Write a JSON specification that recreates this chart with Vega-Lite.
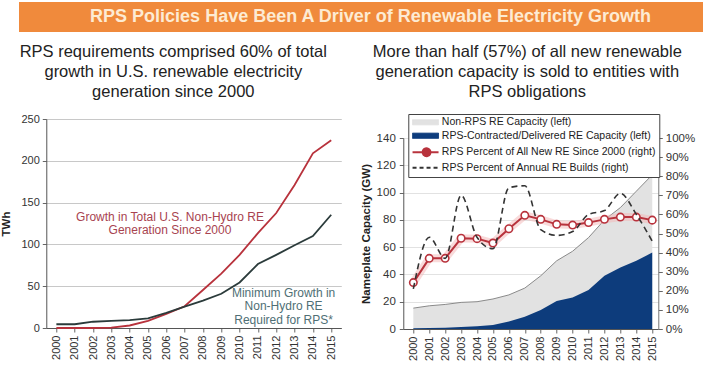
{
  "$schema": "https://vega.github.io/schema/vega-lite/v6.json",
  "background": "white",
  "padding": {"left": 0, "right": 0, "top": 2, "bottom": 0},
  "config": {
    "font": "Liberation Sans",
    "view": {"stroke": null},
    "axis": {"labelFont": "Liberation Sans", "titleFont": "Liberation Sans", "labelColor": "#333333", "titleColor": "#222222", "domainColor": "#666666", "tickColor": "#666666", "labelFontSize": 11, "tickSize": 4}
  },
  "datasets": {
    "gen": [
      {"year": 2000, "series": "total", "twh": 0},
      {"year": 2001, "series": "total", "twh": 0},
      {"year": 2002, "series": "total", "twh": 0},
      {"year": 2003, "series": "total", "twh": 0.5},
      {"year": 2004, "series": "total", "twh": 3},
      {"year": 2005, "series": "total", "twh": 8.5},
      {"year": 2006, "series": "total", "twh": 17},
      {"year": 2007, "series": "total", "twh": 26},
      {"year": 2008, "series": "total", "twh": 45.5},
      {"year": 2009, "series": "total", "twh": 65},
      {"year": 2010, "series": "total", "twh": 87.5},
      {"year": 2011, "series": "total", "twh": 113.5},
      {"year": 2012, "series": "total", "twh": 137.5},
      {"year": 2013, "series": "total", "twh": 171},
      {"year": 2014, "series": "total", "twh": 209},
      {"year": 2015, "series": "total", "twh": 224.5},
      {"year": 2000, "series": "min", "twh": 4.5},
      {"year": 2001, "series": "min", "twh": 4.5},
      {"year": 2002, "series": "min", "twh": 7.5},
      {"year": 2003, "series": "min", "twh": 8.5},
      {"year": 2004, "series": "min", "twh": 9.5},
      {"year": 2005, "series": "min", "twh": 11.5},
      {"year": 2006, "series": "min", "twh": 18},
      {"year": 2007, "series": "min", "twh": 25.5},
      {"year": 2008, "series": "min", "twh": 32.7},
      {"year": 2009, "series": "min", "twh": 41},
      {"year": 2010, "series": "min", "twh": 54.5},
      {"year": 2011, "series": "min", "twh": 76.5},
      {"year": 2012, "series": "min", "twh": 87.5},
      {"year": 2013, "series": "min", "twh": 99},
      {"year": 2014, "series": "min", "twh": 110},
      {"year": 2015, "series": "min", "twh": 135.5}
    ],
    "notes": [
      {"series": "total", "year": 2006.2, "twh": 132.8, "text": "Growth in Total U.S. Non-Hydro RE\nGeneration Since 2000"},
      {"series": "min", "year": 2012.4, "twh": 41.9, "text": "Minimum Growth in\nNon-Hydro RE\nRequired for RPS*"}
    ],
    "cap": [
      {"year": 2000, "total": 15.3, "rps": 0.5, "allpct": 0.243, "annual": 0.21},
      {"year": 2001, "total": 17, "rps": 0.8, "allpct": 0.37, "annual": 0.48},
      {"year": 2002, "total": 18, "rps": 1, "allpct": 0.37, "annual": 0.37},
      {"year": 2003, "total": 19.5, "rps": 1.5, "allpct": 0.475, "annual": 0.70},
      {"year": 2004, "total": 20, "rps": 2, "allpct": 0.473, "annual": 0.48},
      {"year": 2005, "total": 22, "rps": 3, "allpct": 0.45, "annual": 0.42},
      {"year": 2006, "total": 25, "rps": 5.5, "allpct": 0.525, "annual": 0.74},
      {"year": 2007, "total": 30, "rps": 9, "allpct": 0.595, "annual": 0.75},
      {"year": 2008, "total": 39, "rps": 14, "allpct": 0.574, "annual": 0.52},
      {"year": 2009, "total": 50, "rps": 20.5, "allpct": 0.548, "annual": 0.49},
      {"year": 2010, "total": 57, "rps": 23, "allpct": 0.544, "annual": 0.51},
      {"year": 2011, "total": 67, "rps": 28.5, "allpct": 0.557, "annual": 0.60},
      {"year": 2012, "total": 80, "rps": 39, "allpct": 0.574, "annual": 0.62},
      {"year": 2013, "total": 89, "rps": 45, "allpct": 0.586, "annual": 0.71},
      {"year": 2014, "total": 101, "rps": 50, "allpct": 0.586, "annual": 0.60},
      {"year": 2015, "total": 113, "rps": 56, "allpct": 0.57, "annual": 0.46}
    ]
  },
  "center": true,
  "spacing": 9,
  "vconcat": [
    {
      "width": 703,
      "height": 30,
      "view": {"fill": "#f08a3c", "stroke": null},
      "data": {"values": [{"t": "RPS Policies Have Been A Driver of Renewable Electricity Growth"}]},
      "mark": {"type": "text", "font": "Liberation Sans", "fontWeight": "bold", "fontSize": 18, "color": "#fdebd3"},
      "encoding": {"text": {"field": "t"}}
    },
    {
      "spacing": 18,
      "resolve": {"scale": {"color": "independent"}, "legend": {"color": "independent"}},
      "hconcat": [
        {
          "spacing": 12,
          "vconcat": [
            {
              "width": 254,
              "height": 22,
              "data": {"values": [{"t": "RPS requirements comprised 60% of total\ngrowth in U.S. renewable electricity\ngeneration since 2000"}]},
              "mark": {"type": "text", "font": "Liberation Sans", "fontSize": 16.5, "lineHeight": 20, "lineBreak": "\n", "color": "#222222", "baseline": "middle"},
              "encoding": {"text": {"field": "t"}}
            },
            {
              "width": 295,
              "height": 209,
              "layer": [
                {
                  "data": {"name": "gen"},
                  "mark": {"type": "line", "strokeWidth": 1.8},
                  "encoding": {
                    "x": {"field": "year", "type": "quantitative", "scale": {"domain": [1999.45, 2015.55], "nice": false, "zero": false}, "axis": {"tickCount": 16, "format": "d", "labelAngle": -90, "labelOverlap": false, "labelSeparation": 0, "title": null, "grid": false, "labelPadding": 3, "domainColor": "#555555"}},
                    "y": {"field": "twh", "type": "quantitative", "scale": {"domain": [0, 250], "nice": false}, "axis": {"tickCount": 5, "labelOverlap": false, "title": "TWh", "titleFontWeight": "bold", "titleFontSize": 11.5, "titlePadding": 9, "grid": true, "gridColor": "#c8c8c8", "labelPadding": 3, "domainColor": "#555555"}},
                    "color": {"field": "series", "type": "nominal", "scale": {"domain": ["total", "min"], "range": ["#b8323c", "#2b3b3b"]}, "legend": null}
                  }
                },
                {
                  "data": {"name": "notes"},
                  "transform": [{"filter": "datum.series === 'total'"}],
                  "mark": {"type": "text", "fontSize": 12, "lineBreak": "\n", "lineHeight": 13.5, "color": "#a8434f"},
                  "encoding": {"x": {"field": "year", "type": "quantitative"}, "y": {"field": "twh", "type": "quantitative"}, "text": {"field": "text"}}
                },
                {
                  "data": {"name": "notes"},
                  "transform": [{"filter": "datum.series === 'min'"}],
                  "mark": {"type": "text", "fontSize": 12, "lineBreak": "\n", "lineHeight": 13.5, "color": "#4f6f75"},
                  "encoding": {"x": {"field": "year", "type": "quantitative"}, "y": {"field": "twh", "type": "quantitative"}, "text": {"field": "text"}}
                }
              ]
            }
          ]
        },
        {
          "spacing": 12,
          "resolve": {"scale": {"color": "independent"}, "legend": {"color": "independent"}},
          "vconcat": [
            {
              "width": 248,
              "height": 22,
              "data": {"values": [{"t": "More than half (57%) of all new renewable\ngeneration capacity is sold to entities with\nRPS obligations"}]},
              "mark": {"type": "text", "font": "Liberation Sans", "fontSize": 16.5, "lineHeight": 20, "lineBreak": "\n", "color": "#222222", "baseline": "middle"},
              "encoding": {"text": {"field": "t"}}
            },
            {
              "width": 255,
              "height": 191,
              "data": {"name": "cap"},
              "resolve": {"scale": {"y": "independent"}},
              "layer": [
                {
                  "layer": [
                    {
                      "mark": {"type": "area"},
                      "encoding": {
                        "x": {"field": "year", "type": "quantitative", "scale": {"domain": [1999.37, 2015.38], "nice": false, "zero": false}, "axis": {"tickCount": 16, "format": "d", "labelAngle": -90, "labelOverlap": false, "labelSeparation": 0, "title": null, "grid": false, "labelPadding": 3, "domainColor": "#555555"}},
                        "y": {"field": "total", "type": "quantitative", "stack": null, "scale": {"domain": [0, 140], "nice": false}, "axis": {"tickCount": 7, "labelOverlap": false, "title": "Nameplate Capacity (GW)", "titleFontWeight": "bold", "titleFontSize": 11.5, "titlePadding": 5, "labelFontSize": 11.5, "labelPadding": 4, "grid": true, "gridColor": "#e2e2e2", "domainColor": "#555555"}},
                        "color": {
                          "datum": "Non-RPS RE Capacity (left)",
                          "type": "nominal",
                          "scale": {"domain": ["Non-RPS RE Capacity (left)", "RPS-Contracted/Delivered RE Capacity (left)", "RPS Percent of All New RE Since 2000 (right)", "RPS Percent of Annual RE Builds (right)"], "range": ["#e2e2e2", "#0d3c7c", "#b8323c", "#333333"]},
                          "legend": {
                            "orient": "none", "legendX": 5, "legendY": -24, "title": null, "direction": "vertical",
                            "strokeColor": "#444444", "fillColor": "#ffffff", "padding": 3, "rowPadding": 2.5,
                            "labelFont": "Liberation Sans", "labelFontSize": 10.5, "labelColor": "#222222", "labelOffset": 20, "labelLimit": 400, "symbolSize": 64,
                            "encode": {"symbols": {"update": {
                              "shape": {"signal": "datum.value === 'RPS Percent of All New RE Since 2000 (right)' ? 'M-1,0H1.5M3.5,0H5.5M1.5,0A1,1 0 1,1 3.5,0A1,1 0 1,1 1.5,0' : datum.value === 'RPS Percent of Annual RE Builds (right)' ? 'M-1,0H5.5' : 'M-1,-0.65H5.5V0.65H-1Z'"},
                              "fill": {"signal": "datum.value === 'Non-RPS RE Capacity (left)' ? '#e2e2e2' : datum.value === 'RPS-Contracted/Delivered RE Capacity (left)' ? '#0d3c7c' : datum.value === 'RPS Percent of All New RE Since 2000 (right)' ? '#ffffff' : 'transparent'"},
                              "stroke": {"signal": "datum.value === 'Non-RPS RE Capacity (left)' ? '#888888' : datum.value === 'RPS-Contracted/Delivered RE Capacity (left)' ? '#0d3c7c' : datum.value === 'RPS Percent of All New RE Since 2000 (right)' ? '#b8323c' : '#333333'"},
                              "strokeWidth": {"signal": "datum.value === 'Non-RPS RE Capacity (left)' ? 0.8 : datum.value === 'RPS-Contracted/Delivered RE Capacity (left)' ? 1 : 1.8"},
                              "strokeDash": {"signal": "datum.value === 'RPS Percent of Annual RE Builds (right)' ? [4, 3] : [1, 0]"},
                              "opacity": {"value": 1},
                              "fillOpacity": {"value": 1},
                              "strokeOpacity": {"value": 1},
                              "size": {"value": 64}
                            }}}
                          }
                        }
                      }
                    },
                    {
                      "mark": {"type": "line", "color": "#8a8a8a", "strokeWidth": 1},
                      "encoding": {
                        "x": {"field": "year", "type": "quantitative"},
                        "y": {"field": "total", "type": "quantitative", "stack": null}
                      }
                    },
                    {
                      "mark": {"type": "area"},
                      "encoding": {
                        "x": {"field": "year", "type": "quantitative"},
                        "y": {"field": "rps", "type": "quantitative", "stack": null},
                        "color": {"datum": "RPS-Contracted/Delivered RE Capacity (left)", "type": "nominal"}
                      }
                    }
                  ]
                },
                {
                  "layer": [
                    {
                      "mark": {"type": "line", "color": "#f4b6b6", "strokeWidth": 8, "opacity": 0.5},
                      "encoding": {
                        "x": {"field": "year", "type": "quantitative"},
                        "y": {"field": "allpct", "type": "quantitative", "scale": {"domain": [0, 1], "nice": false}, "axis": {"orient": "right", "format": ".0%", "tickCount": 10, "labelOverlap": false, "title": null, "grid": false, "labelFontSize": 11.5, "labelPadding": 3, "domainColor": "#777777"}}
                      }
                    },
                    {
                      "mark": {"type": "line", "strokeWidth": 2, "point": {"filled": false, "fill": "#ffffff", "size": 55, "strokeWidth": 1.6}},
                      "encoding": {
                        "x": {"field": "year", "type": "quantitative"},
                        "y": {"field": "allpct", "type": "quantitative"},
                        "color": {"datum": "RPS Percent of All New RE Since 2000 (right)", "type": "nominal"}
                      }
                    },
                    {
                      "mark": {"type": "line", "strokeWidth": 1.6, "strokeDash": [6, 4], "interpolate": "monotone"},
                      "encoding": {
                        "x": {"field": "year", "type": "quantitative"},
                        "y": {"field": "annual", "type": "quantitative"},
                        "color": {"datum": "RPS Percent of Annual RE Builds (right)", "type": "nominal"}
                      }
                    }
                  ]
                }
              ]
            }
          ]
        }
      ]
    }
  ]
}
